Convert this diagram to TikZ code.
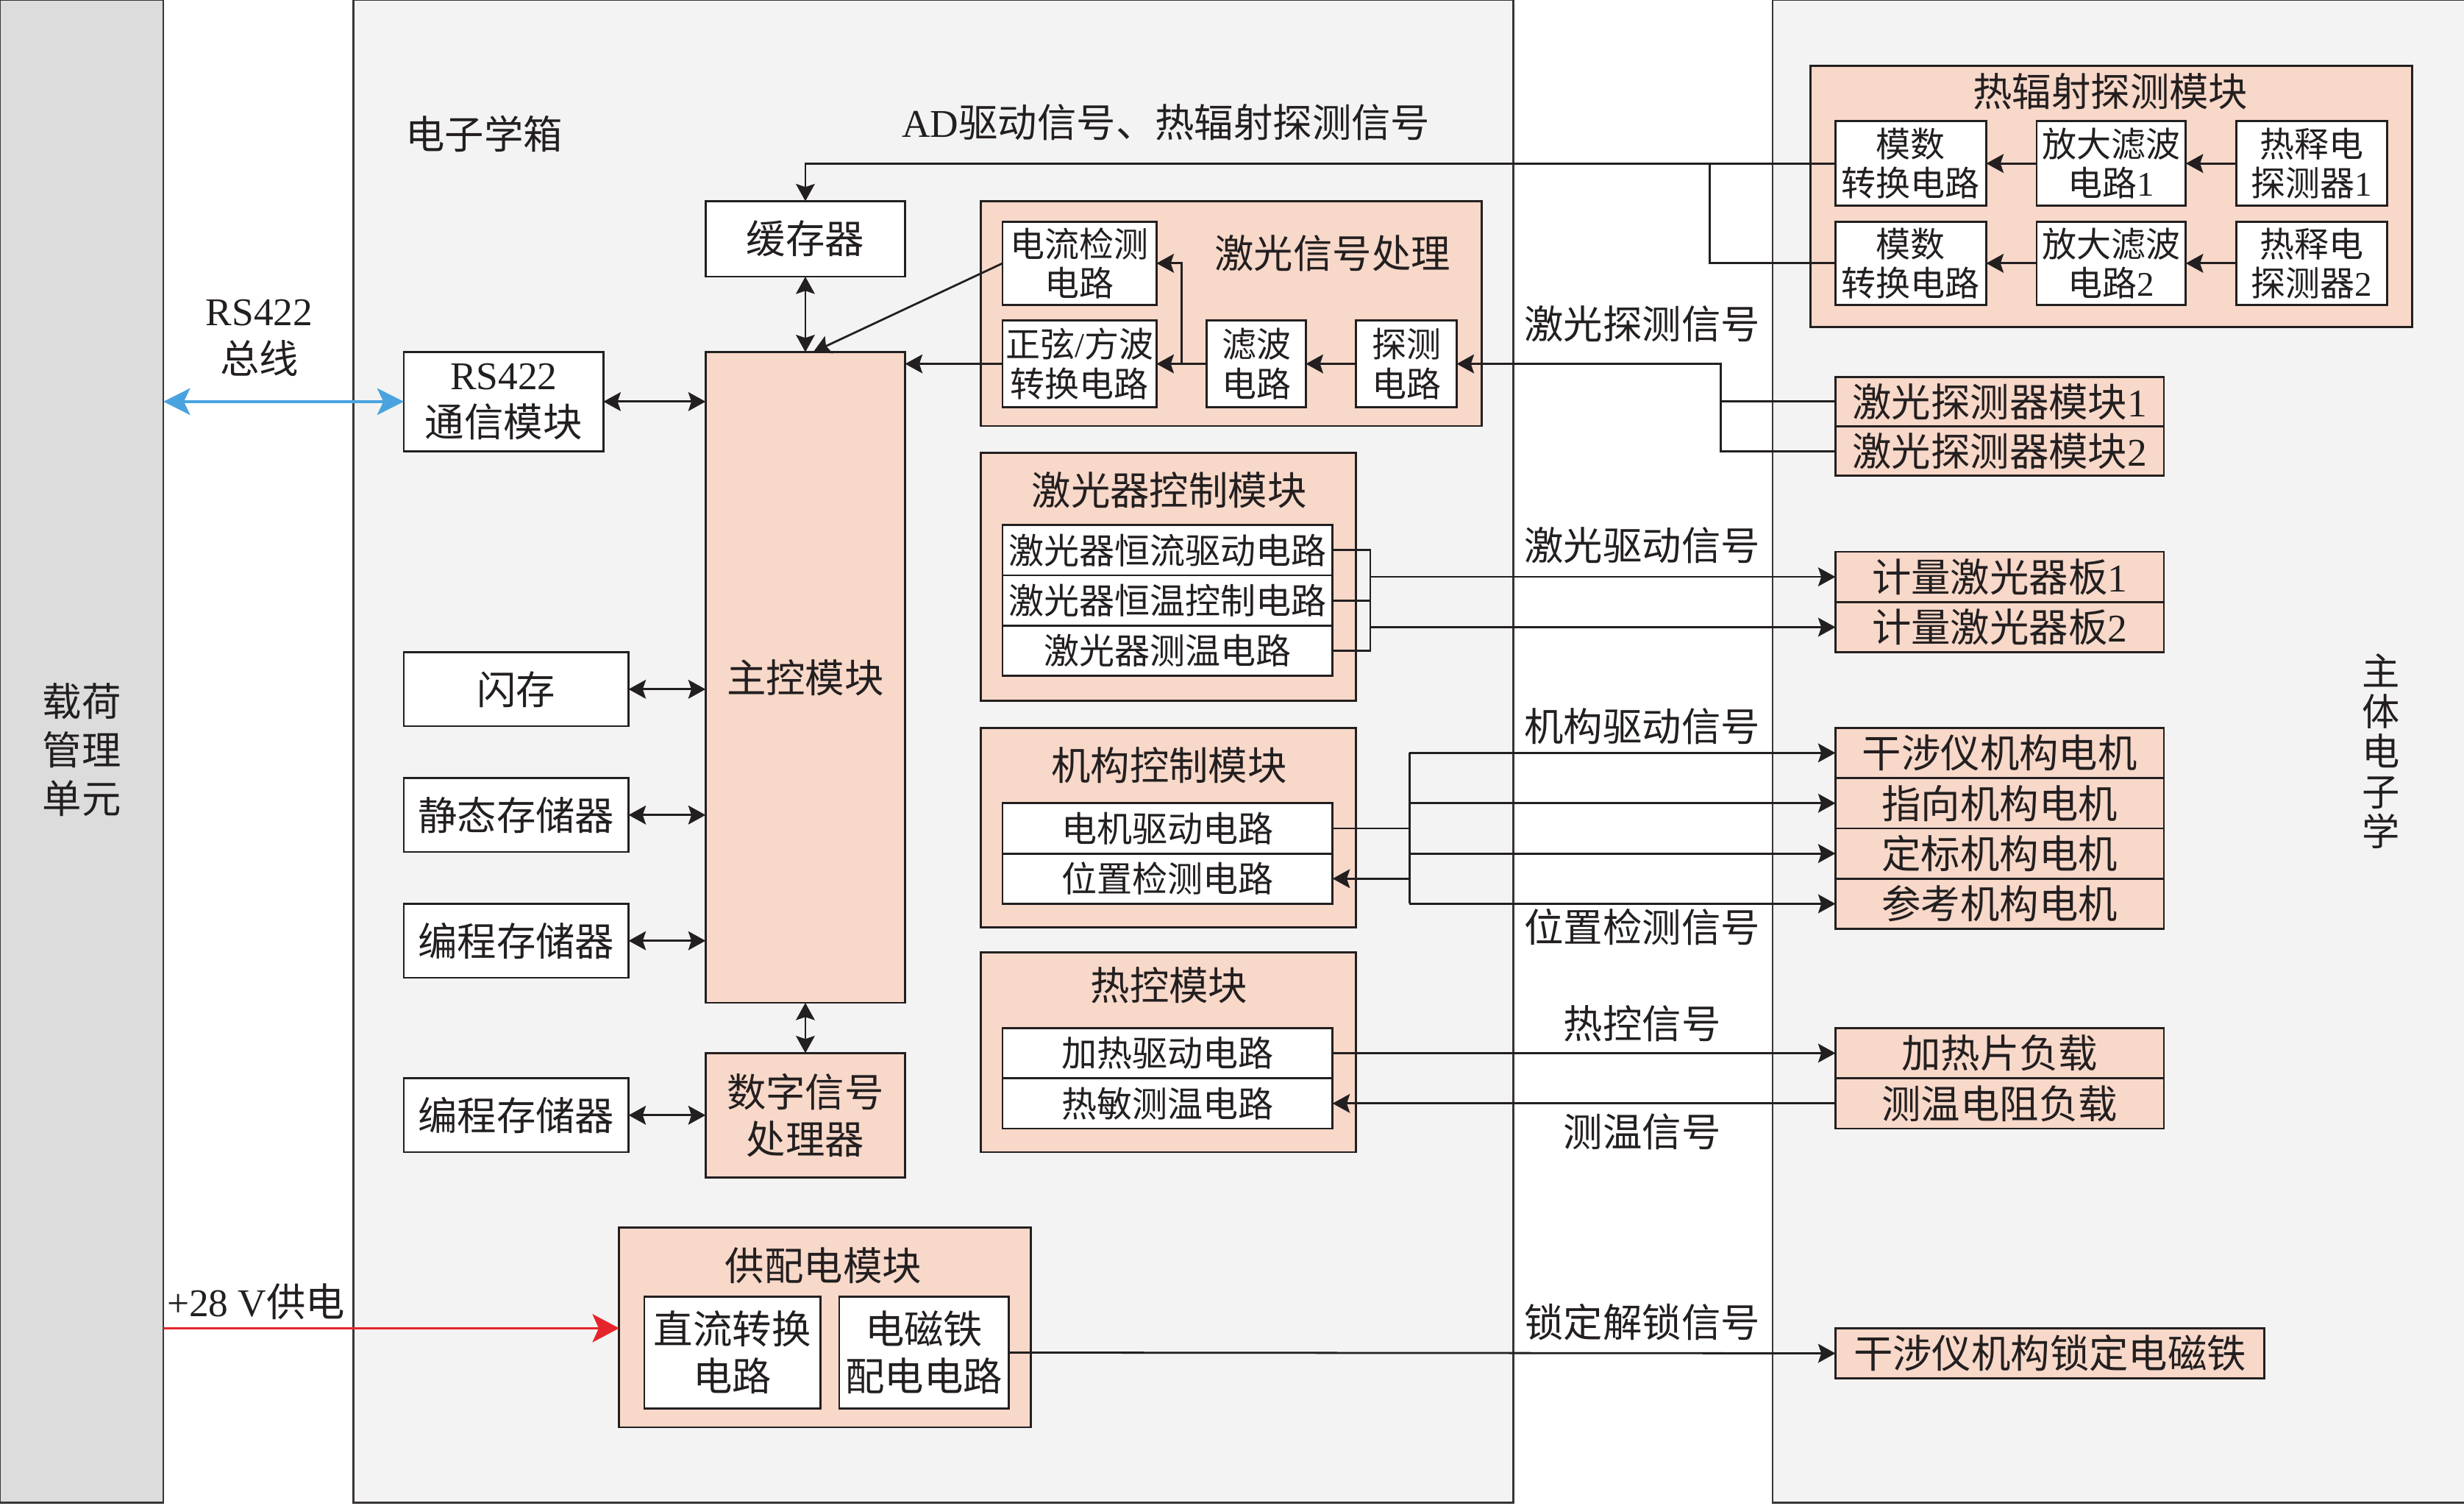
\documentclass[tikz,border=0pt]{standalone}
\usepackage{fontspec}
\setmainfont{Noto Sans CJK SC}
\newfontfamily\lat{Liberation Serif}
\usetikzlibrary{arrows.meta,calc}
\definecolor{pk}{HTML}{F7D8C9}
\definecolor{lg}{HTML}{F3F3F3}
\definecolor{dg}{HTML}{DCDCDC}
\definecolor{bl}{HTML}{4AA3DF}
\definecolor{rd}{HTML}{E4262C}
\definecolor{ln}{HTML}{231F20}
\begin{document}
\begin{tikzpicture}[x=1pt,y=-1pt,
 every node/.style={inner sep=0pt, outer sep=0pt},
 wbox/.style={draw=ln, line width=1.3pt, fill=white, align=center, text=ln, font=\fontsize{25}{30}\selectfont},
 pbox/.style={wbox, fill=pk},
 sbox/.style={wbox, font=\fontsize{22}{25}\selectfont},
 mbox/.style={wbox, font=\fontsize{22.5}{25}\selectfont},
 grp/.style={draw=ln, line width=1.3pt, fill=pk},
 lbl/.style={text=ln, align=center, font=\fontsize{25}{30}\selectfont},
 conn/.style={draw=ln, line width=1.3pt},
 tip/.style={conn, -{Stealth[length=11pt,width=12pt,inset=2pt]}},
 dtip/.style={conn, {Stealth[length=11pt,width=12pt,inset=2pt]}-{Stealth[length=11pt,width=12pt,inset=2pt]}},
 panel/.style={draw=ln!90, line width=1.2pt}
]
\useasboundingbox (0,0) rectangle (1568,958);
\fill[white] (0,0) rectangle (1568,958);
% panels
\path[panel, fill=dg] (0,0) rectangle (104,956);
\path[panel, fill=lg] (225,0) rectangle (963,956);
\path[panel, fill=lg] (1128,0) rectangle (1572,956);

% groups
\node[grp, minimum width=319, minimum height=143] (lsp) at (783.5,199.5) {};
\node[grp, minimum width=383, minimum height=166] (thm) at (1343.5,125) {};
\node[grp, minimum width=239, minimum height=158] (lcm) at (743.5,367) {};
\node[grp, minimum width=239, minimum height=127] (mcm) at (743.5,526.5) {};
\node[grp, minimum width=239, minimum height=127] (tcm) at (743.5,669.5) {};
\node[grp, minimum width=262, minimum height=127] (pwm) at (525,844.5) {};

% group titles
\node[lbl] (lspT) at (848,161) {激光信号处理};
\node[lbl] (thmT) at (1343,58) {热辐射探测模块};
\node[lbl] (lcmT) at (744,312) {激光器控制模块};
\node[lbl] (mcmT) at (744,487) {机构控制模块};
\node[lbl] (tcmT) at (744,627) {热控模块};
\node[lbl] (pwmT) at (524,805) {供配电模块};

% left column boxes
\node[wbox, minimum width=127, minimum height=48] (cache) at (512.5,152) {缓存器};
\node[wbox, minimum width=127, minimum height=63] (rs) at (320.5,255.5) {{\lat RS422}\\通信模块};
\node[pbox, minimum width=127, minimum height=414] (main) at (512.5,431) {主控模块};
\node[wbox, minimum width=143, minimum height=47] (flash) at (328.5,438.5) {闪存};
\node[wbox, minimum width=143, minimum height=47] (sram) at (328.5,518.5) {静态存储器};
\node[wbox, minimum width=143, minimum height=47] (prog1) at (328.5,598.5) {编程存储器};
\node[wbox, minimum width=143, minimum height=47] (prog2) at (328.5,709.5) {编程存储器};
\node[pbox, minimum width=127, minimum height=79] (dsp) at (512.5,709.5) {数字信号\\处理器};

% laser signal processing
\node[sbox, minimum width=98, minimum height=53] (cur) at (687,167.5) {电流检测\\电路};
\node[sbox, minimum width=98, minimum height=55] (sine) at (687,231.5) {正弦{\lat /}方波\\转换电路};
\node[sbox, minimum width=63, minimum height=55] (filt) at (799.5,231.5) {滤波\\电路};
\node[sbox, minimum width=64, minimum height=55] (det) at (895,231.5) {探测\\电路};

% thermal radiation
\node[sbox, minimum width=96, minimum height=54] (adc1) at (1216,104) {模数\\转换电路};
\node[sbox, minimum width=95, minimum height=54] (amp1) at (1343.5,104) {放大滤波\\电路{\lat 1}};
\node[sbox, minimum width=96, minimum height=54] (pyr1) at (1471,104) {热释电\\探测器{\lat 1}};
\node[sbox, minimum width=96, minimum height=53] (adc2) at (1216,167.5) {模数\\转换电路};
\node[sbox, minimum width=95, minimum height=53] (amp2) at (1343.5,167.5) {放大滤波\\电路{\lat 2}};
\node[sbox, minimum width=96, minimum height=53] (pyr2) at (1471,167.5) {热释电\\探测器{\lat 2}};

% laser detector modules
\node[pbox, minimum width=209, minimum height=31.5] (ldm1) at (1272.5,255.5) {激光探测器模块{\lat 1}};
\node[pbox, minimum width=209, minimum height=31.5] (ldm2) at (1272.5,287) {激光探测器模块{\lat 2}};

% laser control
\node[mbox, minimum width=210, minimum height=32] (lc1) at (743,350) {激光器恒流驱动电路};
\node[mbox, minimum width=210, minimum height=32] (lc2) at (743,382) {激光器恒温控制电路};
\node[mbox, minimum width=210, minimum height=32] (lc3) at (743,414) {激光器测温电路};
\node[pbox, minimum width=209, minimum height=32] (brd1) at (1272.5,367) {计量激光器板{\lat 1}};
\node[pbox, minimum width=209, minimum height=32] (brd2) at (1272.5,399) {计量激光器板{\lat 2}};

% mechanism control
\node[mbox, minimum width=210, minimum height=32] (mc1) at (743,527) {电机驱动电路};
\node[mbox, minimum width=210, minimum height=32] (mc2) at (743,559) {位置检测电路};
\node[pbox, minimum width=209, minimum height=32] (mo1) at (1272.5,479) {干涉仪机构电机};
\node[pbox, minimum width=209, minimum height=32] (mo2) at (1272.5,511) {指向机构电机};
\node[pbox, minimum width=209, minimum height=32] (mo3) at (1272.5,543) {定标机构电机};
\node[pbox, minimum width=209, minimum height=32] (mo4) at (1272.5,575) {参考机构电机};

% thermal control
\node[mbox, minimum width=210, minimum height=32] (tc1) at (743,670) {加热驱动电路};
\node[mbox, minimum width=210, minimum height=32] (tc2) at (743,702) {热敏测温电路};
\node[pbox, minimum width=209, minimum height=32] (heat) at (1272.5,670) {加热片负载};
\node[pbox, minimum width=209, minimum height=32] (rtd) at (1272.5,702) {测温电阻负载};

% power
\node[wbox, minimum width=112, minimum height=71] (dc) at (466,860.5) {直流转换\\电路};
\node[wbox, minimum width=108, minimum height=71] (em) at (588,860.5) {电磁铁\\配电电路};
\node[pbox, minimum width=273, minimum height=32] (lock) at (1304.5,861) {干涉仪机构锁定电磁铁};

% labels
\node[lbl] (tBox) at (308,85) {电子学箱};
\node[lbl] (tAD) at (742,78) {{\lat AD}驱动信号、热辐射探测信号};
\node[lbl] (tRS) at (165,215) {{\lat RS422}\\总线};
\node[lbl] (tPW) at (163,828) {{\lat +28 V}供电};
\node[lbl] (tLD) at (1045,206) {激光探测信号};
\node[lbl] (tLQ) at (1045,347) {激光驱动信号};
\node[lbl] (tMQ) at (1045,462) {机构驱动信号};
\node[lbl] (tPS) at (1045,590) {位置检测信号};
\node[lbl] (tHK) at (1045,651) {热控信号};
\node[lbl] (tCW) at (1045,720) {测温信号};
\node[lbl] (tLK) at (1045,841) {锁定解锁信号};
\node[lbl, font=\fontsize{25}{31}\selectfont] (tLoad) at (52,477) {载荷\\管理\\单元};
\node[lbl, font=\fontsize{24}{25.5}\selectfont] (tMain) at (1515,478) {主\\体\\电\\子\\学};

% coordinates
\coordinate (pL) at (104,255.5);
\coordinate (pR) at (104,845);
\coordinate (j1) at (752,231.5);
\coordinate (j2) at (1095,231.5);
\coordinate (j3) at (1088,104);
\coordinate (bx) at (872,382);
\coordinate (mx) at (897,527);

% bus and power
\draw[line width=1.6pt, draw=bl, {Stealth[length=17pt,width=17pt,inset=4pt]}-{Stealth[length=17pt,width=17pt,inset=4pt]}] (pL) -- (rs.west);
\draw[line width=1.4pt, draw=rd, -{Stealth[length=17pt,width=18pt,inset=4pt]}] (pR) -- (pR -| pwm.west);

% main controller links
\draw[dtip] (rs.east) -- (rs.east -| main.west);
\draw[dtip] (flash.east) -- (flash.east -| main.west);
\draw[dtip] (sram.east) -- (sram.east -| main.west);
\draw[dtip] (prog1.east) -- (prog1.east -| main.west);
\draw[dtip] (prog2.east) -- (prog2.east -| dsp.west);
\draw[dtip] (cache.south) -- (main.north);
\draw[dtip] (main.south) -- (dsp.north);

% laser signal processing
\draw[tip] (cur.west) -- ($(main.north)+(5,0)$);
\draw[tip] (sine.west) -- (sine.west -| main.east);
\draw[tip] (filt.west) -- (sine.east);
\draw[tip] (j1) |- (cur.east);
\draw[tip] (det.west) -- (filt.east);
\draw[tip] (ldm2.west) -| (j2) -- (det.east);
\draw[conn] (ldm1.west) -- (ldm1.west -| j2);

% thermal radiation
\draw[tip] (pyr1.west) -- (amp1.east);
\draw[tip] (amp1.west) -- (adc1.east);
\draw[tip] (pyr2.west) -- (amp2.east);
\draw[tip] (amp2.west) -- (adc2.east);
\draw[tip] (adc1.west) -| (cache.north);
\draw[conn] (adc2.west) -| (j3);

% laser control
\draw[conn] (lc1.east) -| (lc3.east -| bx) -- (lc3.east);
\draw[conn] (lc2.east) -- (bx);
\draw[tip] (brd1.west -| bx) -- (brd1.west);
\draw[tip] (brd2.west -| bx) -- (brd2.west);

% mechanism control
\draw[conn] (mc1.east) -- (mx);
\draw[conn] (mo1.west -| mx) -- (mo4.west -| mx);
\draw[tip] (mo1.west -| mx) -- (mo1.west);
\draw[tip] (mo2.west -| mx) -- (mo2.west);
\draw[tip] (mo3.west -| mx) -- (mo3.west);
\draw[tip] (mo4.west -| mx) -- (mo4.west);
\draw[tip] (mc2.east -| mx) -- (mc2.east);

% thermal control
\draw[tip] (tc1.east) -- (heat.west);
\draw[tip] (rtd.west) -- (tc2.east);

% lock
\draw[tip] (em.east) -- (lock.west);
\end{tikzpicture}
\end{document}
